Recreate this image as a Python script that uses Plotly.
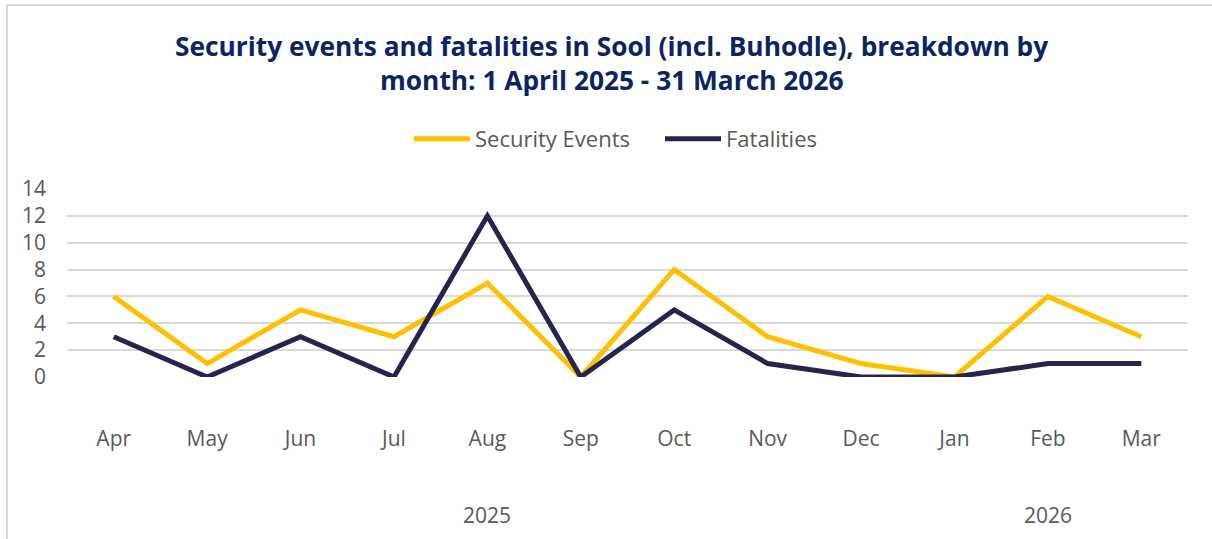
import plotly.graph_objects as go

# Monthly counts, April 2025 - March 2026
months = ["Apr", "May", "Jun", "Jul", "Aug", "Sep", "Oct", "Nov", "Dec", "Jan", "Feb", "Mar"]
security_events = [6, 1, 5, 3, 7, 0, 8, 3, 1, 0, 6, 3]
fatalities = [3, 0, 3, 0, 12, 0, 5, 1, 0, 0, 1, 1]

# Year groups: (label, month the label is centred under)
years = [("2025", "Aug"), ("2026", "Feb")]

y_ticks = [0, 2, 4, 6, 8, 10, 12, 14]

W, H = 1212, 539
L, R, T, B = 67, 24, 189, 162
plot_w, plot_h = W - L - R, H - T - B

GOLD = "#FFC000"
NAVY = "#25244F"
TEXT = "#595959"
GRID = "#D9D9D9"
FONT = "'Open Sans', Lato, sans-serif"


def px_x(x):
    return (x - L) / plot_w


def px_y(y):
    return (H - B - y) / plot_h


fig = go.Figure()
fig.add_trace(go.Scatter(
    x=months, y=security_events, name="Security Events", mode="lines",
    line=dict(color=GOLD, width=5), hoverinfo="x+y+name",
))
fig.add_trace(go.Scatter(
    x=months, y=fatalities, name="Fatalities", mode="lines",
    line=dict(color=NAVY, width=5), hoverinfo="x+y+name",
))

title_font = dict(family=FONT, size=26.3, color="#0D2463")
annotations = [
    dict(text="<b>Security events and fatalities in Sool (incl. Buhodle), breakdown by</b>",
         xref="paper", yref="paper", x=px_x(611), y=px_y(46), showarrow=False,
         xanchor="center", yanchor="middle", font=title_font),
    dict(text="<b>month: 1 April 2025 - 31 March 2026</b>",
         xref="paper", yref="paper", x=px_x(611), y=px_y(80), showarrow=False,
         xanchor="center", yanchor="middle", font=title_font),
]
for label, centre in years:
    annotations.append(dict(
        text=label, xref="x", yref="paper", x=centre, y=px_y(515), showarrow=False,
        xanchor="center", yanchor="middle", font=dict(family=FONT, size=21, color=TEXT),
    ))

shapes = [
    # light frame around the chart (top and left edges)
    dict(type="line", xref="paper", yref="paper", x0=px_x(7), x1=px_x(1212),
         y0=px_y(5), y1=px_y(5), line=dict(color=GRID, width=2)),
    dict(type="line", xref="paper", yref="paper", x0=px_x(7), x1=px_x(7),
         y0=px_y(5), y1=px_y(540), line=dict(color=GRID, width=2)),
]

fig.update_layout(
    width=W, height=H,
    margin=dict(l=L, r=R, t=T, b=B, pad=0),
    paper_bgcolor="white", plot_bgcolor="white",
    font=dict(family=FONT, size=21, color=TEXT),
    showlegend=True,
    legend=dict(orientation="h", x=px_x(409), xanchor="left",
                y=px_y(139), yanchor="middle", font=dict(size=22, color=TEXT),
                itemwidth=56, entrywidth=180, entrywidthmode="pixels",
                tracegroupgap=0, itemsizing="constant"),
    xaxis=dict(type="category", range=[-0.5, 11.5], showgrid=False, zeroline=False,
               showline=False, ticks="", tickfont=dict(size=21, color=TEXT),
               ticklabelstandoff=47),
    yaxis=dict(range=[0, 14], tickvals=y_ticks, showgrid=True, gridcolor=GRID, gridwidth=2,
               zeroline=False, showline=False, ticks="", tickfont=dict(size=21, color=TEXT),
               ticklabelstandoff=20),
    annotations=annotations,
    shapes=shapes,
)

fig.write_html("out.html")
